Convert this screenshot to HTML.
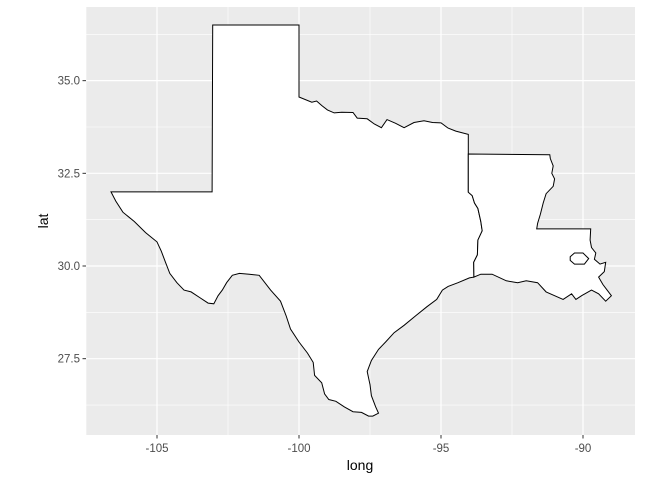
<!DOCTYPE html>
<html><head><meta charset="utf-8"><style>
body{margin:0;background:#fff}
svg text{font-family:"Liberation Sans",sans-serif}
</style></head><body>
<svg id="chart" width="672" height="480">
<rect x="0" y="0" width="672" height="480" fill="#fff"/>
<rect x="86" y="7" width="549" height="428" fill="#ebebeb"/>
<g id="grid"></g><g id="shapes"></g><g id="axes"></g>
<text x="360" y="470" font-size="14" text-anchor="middle" fill="#000">long</text>
<text x="48" y="221" font-size="14" text-anchor="middle" fill="#000" transform="rotate(-90 48 221)">lat</text>
</svg>
<script>
const xTicks=[-105,-100,-95,-90];
const xMinor=[-107.5,-102.5,-97.5,-92.5];
const yTicks=[27.5,30.0,32.5,35.0];
const yMinor=[26.25,28.75,31.25,33.75,36.25];
const texas=[[-103.04,36.5],[-100,36.5],[-100,34.56],[-99.55,34.42],[-99.38,34.45],[-99.2,34.33],[-99,34.21],[-98.76,34.13],[-98.5,34.15],[-98.1,34.14],[-97.95,33.99],[-97.6,33.97],[-97.35,33.83],[-97.1,33.73],[-96.9,33.95],[-96.6,33.85],[-96.3,33.73],[-95.95,33.87],[-95.6,33.92],[-95.3,33.87],[-95,33.86],[-94.75,33.72],[-94.48,33.64],[-94.04,33.55],[-94.04,33.02],[-94.04,31.99],[-93.9,31.9],[-93.82,31.7],[-93.7,31.55],[-93.6,31.2],[-93.55,30.95],[-93.7,30.7],[-93.72,30.3],[-93.85,30.1],[-93.84,29.7],[-94.0,29.68],[-94.4,29.55],[-94.75,29.45],[-94.95,29.35],[-95.15,29.1],[-95.5,28.9],[-95.9,28.65],[-96.3,28.4],[-96.65,28.2],[-96.95,27.95],[-97.2,27.75],[-97.45,27.45],[-97.6,27.15],[-97.5,26.8],[-97.45,26.5],[-97.3,26.2],[-97.2,26.03],[-97.4,25.95],[-97.55,25.95],[-97.8,26.05],[-98.1,26.07],[-98.4,26.2],[-98.7,26.35],[-98.95,26.4],[-99.1,26.55],[-99.2,26.85],[-99.45,27.05],[-99.5,27.4],[-99.7,27.65],[-100,27.95],[-100.3,28.3],[-100.45,28.65],[-100.65,29.05],[-101,29.35],[-101.4,29.75],[-101.75,29.78],[-102.1,29.8],[-102.35,29.75],[-102.55,29.55],[-102.7,29.35],[-102.85,29.2],[-103,28.98],[-103.2,29.0],[-103.5,29.15],[-103.8,29.3],[-104.05,29.35],[-104.3,29.55],[-104.55,29.8],[-104.7,30.1],[-104.85,30.4],[-105,30.65],[-105.4,30.9],[-105.8,31.2],[-106.2,31.45],[-106.45,31.75],[-106.62,32.0],[-103.06,32.0]];
const louisiana=[[-94.04,33.02],[-91.17,33.0],[-91.15,32.9],[-91.05,32.7],[-91.1,32.5],[-91.0,32.35],[-91.05,32.15],[-91.3,31.95],[-91.4,31.7],[-91.5,31.4],[-91.6,31.15],[-91.63,31.0],[-89.73,31.0],[-89.75,30.7],[-89.7,30.5],[-89.55,30.35],[-89.6,30.18],[-89.4,30.05],[-89.2,30.1],[-89.25,29.85],[-89.45,29.7],[-89.3,29.5],[-89.15,29.35],[-89.0,29.2],[-89.2,29.05],[-89.45,29.25],[-89.7,29.35],[-90.05,29.2],[-90.25,29.1],[-90.4,29.25],[-90.7,29.1],[-91.0,29.2],[-91.3,29.3],[-91.6,29.55],[-92.0,29.6],[-92.3,29.55],[-92.7,29.6],[-93.2,29.78],[-93.6,29.78],[-93.84,29.7],[-93.85,30.1],[-93.72,30.3],[-93.7,30.7],[-93.55,30.95],[-93.6,31.2],[-93.7,31.55],[-93.82,31.7],[-93.9,31.9],[-94.04,31.99]];
const lake=[[-90.45,30.25],[-90.3,30.35],[-90.0,30.35],[-89.8,30.2],[-89.95,30.05],[-90.3,30.05],[-90.45,30.15]];
const X=l=>299+(l+100)*28.4, Y=l=>266-(l-30)*37.07;
const NS='http://www.w3.org/2000/svg';
function mk(p,t,a){const e=document.createElementNS(NS,t);for(const k in a)e.setAttribute(k,a[k]);p.appendChild(e);return e;}
const g=document.getElementById('grid'),s=document.getElementById('shapes'),ax=document.getElementById('axes');
xMinor.forEach(v=>{const e=mk(g,'line',{x1:X(v),x2:X(v),y1:7,y2:435,stroke:'#fff','stroke-width':0.6});

});
yMinor.forEach(v=>{const e=mk(g,'line',{x1:86,x2:635,y1:Y(v),y2:Y(v),stroke:'#fff','stroke-width':0.6});

});
xTicks.forEach(v=>{const e=mk(g,'line',{x1:X(v),x2:X(v),y1:7,y2:435,stroke:'#fff','stroke-width':1.2});


const t=mk(ax,'line',{x1:X(v),x2:X(v),y1:435,y2:438.5,stroke:'#333','stroke-width':1});


const l=mk(ax,'text',{x:X(v),y:452,'font-size':11.5,'text-anchor':'middle',fill:'#4d4d4d'});l.textContent=v;

});
yTicks.forEach(v=>{const e=mk(g,'line',{x1:86,x2:635,y1:Y(v),y2:Y(v),stroke:'#fff','stroke-width':1.2});


const t=mk(ax,'line',{x1:82.5,x2:86,y1:Y(v),y2:Y(v),stroke:'#333','stroke-width':1});


const l=mk(ax,'text',{x:80,y:Y(v)+4,'font-size':11.5,'text-anchor':'end',fill:'#4d4d4d'});l.textContent=v.toFixed(1);

});
const pts=a=>a.map(p=>X(p[0]).toFixed(1)+','+Y(p[1]).toFixed(1)).join(' ');
const tx=mk(s,'polygon',{points:pts(texas),fill:'#fff',stroke:'#000','stroke-width':1});


const la=mk(s,'polygon',{points:pts(louisiana),fill:'#fff',stroke:'#000','stroke-width':1});


const lk=mk(s,'polygon',{points:pts(lake),fill:'#fff',stroke:'#000','stroke-width':1});


</script>
</body></html>
